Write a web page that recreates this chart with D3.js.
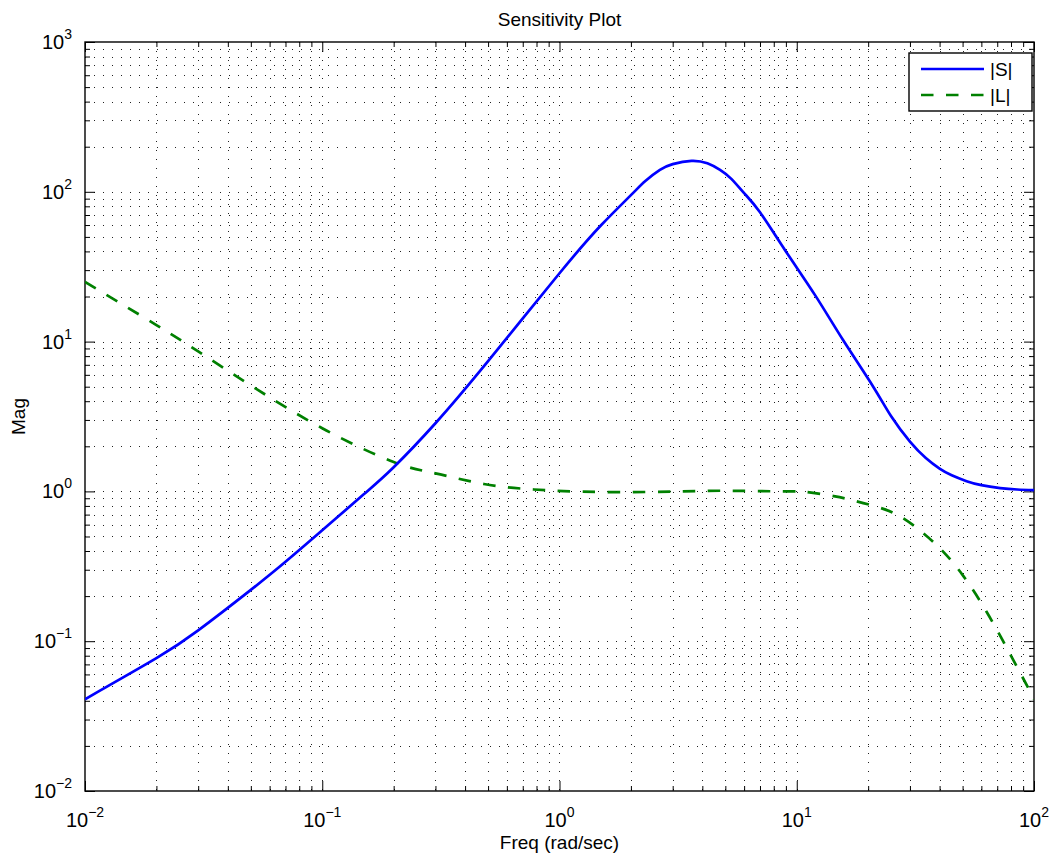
<!DOCTYPE html>
<html>
<head>
<meta charset="utf-8">
<script src="https://cdn.jsdelivr.net/npm/d3@7"></script>
<style>
  html, body { margin: 0; padding: 0; background: #fff; }
  svg { display: block; }
  text { font-family: "Liberation Sans", Arial, Helvetica, sans-serif; fill: #000; }
</style>
</head>
<body>
<svg id="chart" width="1053" height="857"></svg>
<script>
// ---- data ----
const sFreq = [0.01, 0.02, 0.03, 0.05, 0.07, 0.1, 0.15, 0.2, 0.3, 0.5, 1, 1.5, 2, 2.3, 2.65, 3.0, 3.6, 4.2, 4.75, 5.3, 6, 7, 9, 12, 15.7, 21, 25, 30, 35, 40, 45, 52, 60, 72, 85, 100];
const sMag  = [0.041, 0.077, 0.118, 0.22, 0.339, 0.55, 0.96, 1.45, 2.85, 7.4, 28.6, 60, 95, 118, 140, 153, 161, 155, 140, 122, 98, 73, 40, 20.2, 10.2, 5.0, 3.17, 2.15, 1.67, 1.42, 1.28, 1.17, 1.10, 1.053, 1.03, 1.02];

const lFreq = [0.01, 0.02, 0.03, 0.05, 0.1, 0.2, 0.3, 0.48, 0.78, 1.5, 3.3, 5, 8.8, 11, 14.3, 16.8, 21.7, 27.3, 34.2, 41.5, 50.4, 63, 79, 94.7, 100];
const lMag  = [25, 12.9, 8.6, 5.1, 2.64, 1.57, 1.32, 1.12, 1.03, 0.99, 1.0, 1.01, 1.0, 0.99, 0.93, 0.88, 0.79, 0.68, 0.525, 0.395, 0.272, 0.158, 0.083, 0.0485, 0.041];

const xTickExps = [-2, -1, 0, 1, 2];
const yTickExps = [-2, -1, 0, 1, 2, 3];
const seriesNames = ["|S|", "|L|"];
const titleText = "Sensitivity Plot";
const xLabelText = "Freq (rad/sec)";
const yLabelText = "Mag";

// ---- layout ----
const svg = d3.select("#chart");
const L = 85, T = 42, R = 1034, B = 791;
const x = d3.scaleLog().domain([1e-2, 1e2]).range([L, R]);
const y = d3.scaleLog().domain([1e-2, 1e3]).range([B, T]);

const majorX = xTickExps.map(e => Math.pow(10, e));
const majorY = yTickExps.map(e => Math.pow(10, e));
const minorX = [], minorY = [];
for (let e = -2; e < 2; e++) for (let k = 2; k <= 9; k++) minorX.push(k * Math.pow(10, e));
for (let e = -2; e < 3; e++) for (let k = 2; k <= 9; k++) minorY.push(k * Math.pow(10, e));

// grid
const grid = svg.append("g").attr("stroke", "#222").attr("stroke-width", 1)
  .attr("stroke-dasharray", "1,8").attr("shape-rendering", "crispEdges");
majorX.concat(minorX).filter(v => v > 1e-2 && v < 1e2).forEach(v => {
  grid.append("line").attr("x1", Math.round(x(v)) + 0.5).attr("x2", Math.round(x(v)) + 0.5)
    .attr("y1", T).attr("y2", B);
});
majorY.concat(minorY).filter(v => v > 1e-2 && v < 1e3).forEach(v => {
  grid.append("line").attr("y1", Math.round(y(v)) + 0.5).attr("y2", Math.round(y(v)) + 0.5)
    .attr("x1", L).attr("x2", R);
});

// ticks (inward, all four sides) via d3 axes
function axes(sel, axisFn, scale, vals, size, transform) {
  sel.append("g").attr("transform", transform)
    .call(axisFn(scale).tickValues(vals).tickSize(-size).tickFormat(""))
    .call(g => g.select(".domain").remove())
    .call(g => g.selectAll("line").attr("stroke", "#000").attr("stroke-width", 1));
}
axes(svg, d3.axisBottom, x, majorX, 10, `translate(0,${B})`);
axes(svg, d3.axisBottom, x, minorX, 5, `translate(0,${B})`);
axes(svg, d3.axisTop, x, majorX, 10, `translate(0,${T})`);
axes(svg, d3.axisTop, x, minorX, 5, `translate(0,${T})`);
axes(svg, d3.axisLeft, y, majorY, 10, `translate(${L},0)`);
axes(svg, d3.axisLeft, y, minorY, 5, `translate(${L},0)`);
axes(svg, d3.axisRight, y, majorY, 10, `translate(${R},0)`);
axes(svg, d3.axisRight, y, minorY, 5, `translate(${R},0)`);

// frame
svg.append("rect").attr("x", L).attr("y", T).attr("width", R - L).attr("height", B - T)
  .attr("fill", "none").attr("stroke", "#000").attr("stroke-width", 1.4);

// curves
const line = d3.line().x(d => x(d[0])).y(d => y(d[1])).curve(d3.curveNatural);
svg.append("clipPath").attr("id", "clip").append("rect")
  .attr("x", L).attr("y", T).attr("width", R - L).attr("height", B - T);
svg.append("path").datum(d3.zip(lFreq, lMag)).attr("d", line)
  .attr("fill", "none").attr("stroke", "#008000").attr("stroke-width", 2.7)
  .attr("stroke-dasharray", "12.5,12.5").attr("clip-path", "url(#clip)");
svg.append("path").datum(d3.zip(sFreq, sMag)).attr("d", line)
  .attr("fill", "none").attr("stroke", "#0000ff").attr("stroke-width", 2.7)
  .attr("clip-path", "url(#clip)");

// tick labels
const fs = 20, fe = 14;
xTickExps.forEach(e => {
  const t = svg.append("text").attr("x", x(Math.pow(10, e))).attr("y", 827)
    .attr("text-anchor", "middle").style("font-size", fs + "px");
  t.append("tspan").text("10");
  t.append("tspan").attr("dy", -10).style("font-size", fe + "px").text(e < 0 ? "\u2212" + (-e) : e);
});
yTickExps.forEach(e => {
  const t = svg.append("text").attr("x", 72).attr("y", y(Math.pow(10, e)) + 7)
    .attr("text-anchor", "end").style("font-size", fs + "px");
  t.append("tspan").text("10");
  t.append("tspan").attr("dy", -10).style("font-size", fe + "px").text(e < 0 ? "\u2212" + (-e) : e);
});

// titles
svg.append("text").attr("x", (L + R) / 2).attr("y", 26).attr("text-anchor", "middle")
  .style("font-size", "19px").text(titleText);
svg.append("text").attr("x", (L + R) / 2).attr("y", 849).attr("text-anchor", "middle")
  .style("font-size", "19px").text(xLabelText);
svg.append("text").attr("transform", `translate(25,${(T + B) / 2}) rotate(-90)`)
  .attr("text-anchor", "middle").style("font-size", "19px").text(yLabelText);

// legend
const lg = svg.append("g");
lg.append("rect").attr("x", 909).attr("y", 53).attr("width", 123).attr("height", 58)
  .attr("fill", "#fff").attr("stroke", "#000").attr("stroke-width", 1.4);
const legendStyles = [
  { color: "#0000ff", dash: null },
  { color: "#008000", dash: "12.5,12.5" }
];
seriesNames.forEach((n, i) => {
  const yy = 69 + i * 26;
  const l = lg.append("line").attr("x1", 921).attr("x2", 984).attr("y1", yy).attr("y2", yy)
    .attr("stroke", legendStyles[i].color).attr("stroke-width", 2.7);
  if (legendStyles[i].dash) l.attr("stroke-dasharray", legendStyles[i].dash);
  lg.append("text").attr("x", 990).attr("y", yy + 7).style("font-size", "19px").text(n);
});
</script>
</body>
</html>
